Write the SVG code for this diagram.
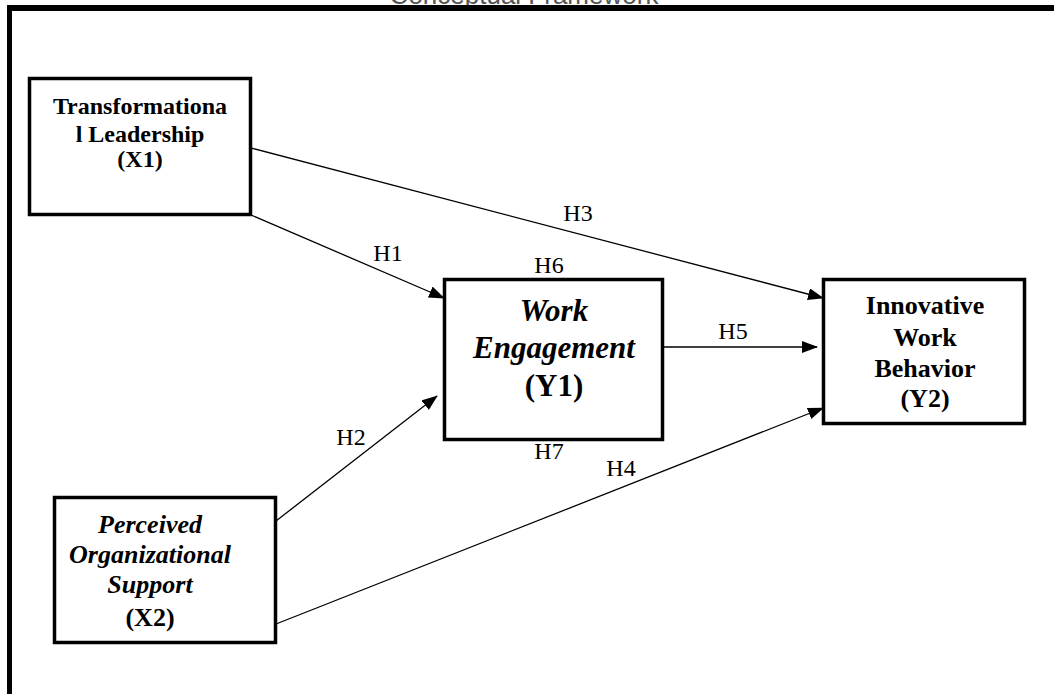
<svg xmlns="http://www.w3.org/2000/svg" width="1054" height="694" viewBox="0 0 1054 694">
<style>
.box{fill:#fff;stroke:#000;stroke-width:3.5}
.t{font-family:"Liberation Serif","Times New Roman",serif;font-weight:bold;text-anchor:middle;fill:#000}
.i{font-style:italic}
.lbl{font-family:"Liberation Serif","Times New Roman",serif;font-size:24px;text-anchor:middle;fill:#000}
.c{stroke:#000;stroke-width:1.3;fill:none;marker-end:url(#ah)}
.frame{stroke:#000;fill:none}
</style>
<defs>
<marker id="ah" viewBox="0 0 16 12" refX="15" refY="6" markerWidth="16" markerHeight="12" markerUnits="userSpaceOnUse" orient="auto">
<path d="M0,0 L16,6 L0,12 Z" fill="#000"/>
</marker>
</defs>
<rect width="1054" height="694" fill="#fff"/>
<text x="524" y="4" font-family="Liberation Sans, Arial, sans-serif" font-size="26" text-anchor="middle" fill="#555">Conceptual Framework</text>
<g id="frame">
<line class="frame" x1="7" y1="8" x2="1054" y2="8" stroke-width="6"/>
<line class="frame" x1="9.5" y1="5" x2="9.5" y2="694" stroke-width="5"/>
</g>
<g id="connectors">
<line class="c" x1="251" y1="148" x2="823" y2="298"/>
<line class="c" x1="251" y1="215" x2="444" y2="298"/>
<line class="c" x1="276" y1="521" x2="437" y2="396"/>
<line class="c" x1="276" y1="624" x2="823" y2="408"/>
<line class="c" x1="663" y1="347" x2="817" y2="347"/>
</g>
<g id="labels">
<text class="lbl" x="578" y="221">H3</text>
<text class="lbl" x="388" y="261">H1</text>
<text class="lbl" x="549" y="273">H6</text>
<text class="lbl" x="733" y="339">H5</text>
<text class="lbl" x="351" y="445">H2</text>
<text class="lbl" x="549" y="459">H7</text>
<text class="lbl" x="621" y="476">H4</text>
</g>
<g id="x1">
<rect class="box" x="29.5" y="78.5" width="221" height="136"/>
<text class="t" font-size="24" x="140" y="114">Transformationa</text>
<text class="t" font-size="24" x="140" y="142">l Leadership</text>
<text class="t" font-size="24" x="140" y="167">(X1)</text>
</g>
<g id="y1">
<rect class="box" x="444.5" y="279.5" width="218" height="160"/>
<text class="t i" font-size="31" x="554" y="321">Work</text>
<text class="t i" font-size="31" x="554" y="358">Engagement</text>
<text class="t" font-size="31" x="554" y="396">(Y1)</text>
</g>
<g id="y2">
<rect class="box" x="823.5" y="279.5" width="201" height="144"/>
<text class="t" font-size="26" x="925" y="314">Innovative</text>
<text class="t" font-size="26" x="925" y="346">Work</text>
<text class="t" font-size="26" x="925" y="377">Behavior</text>
<text class="t" font-size="26" x="925" y="407">(Y2)</text>
</g>
<g id="x2">
<rect class="box" x="54.5" y="497.5" width="221" height="145"/>
<text class="t i" font-size="26" x="150" y="533">Perceived</text>
<text class="t i" font-size="26" x="150" y="563">Organizational</text>
<text class="t i" font-size="26" x="150" y="593">Support</text>
<text class="t" font-size="26" x="150" y="626">(X2)</text>
</g>
</svg>
